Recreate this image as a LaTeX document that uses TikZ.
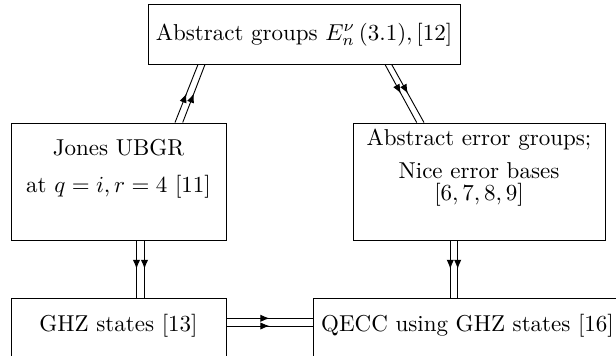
\documentclass[tikz,border=0pt]{standalone}
\usepackage{amsmath}
\usepackage{amssymb}
\usetikzlibrary{arrows.meta,calc,decorations.markings}

\tikzset{
    box/.style = {rectangle, draw, inner sep = 2pt},
    midarrow/.style = {postaction = {decorate}, decoration = {markings, mark = at position 0.5 with {\arrow{Latex[length = 4pt, width = 3.2pt]}}}},
}

\begin{document}
\begin{tikzpicture}[x = 0.435pt, y = -0.435pt]
        \useasboundingbox (0, 0) rectangle (616, 356);
        \clip (0, 0) rectangle (616, 356);
        \node (groups) at (304, 34.5) [box, minimum width = 135.7pt, minimum height = 25.7pt] {Abstract groups $E_n^{\nu}\,(3.1), [12]$};
        \node (jones) at (118.5, 181.5) [box, minimum width = 93.5pt, minimum height = 50.9pt, align = center, text depth = 13.3pt] {Jones UBGR\\[4pt] at $q = i, r = 4$ [11]};
        \node (nice) at (479, 181.5) [box, inner ysep = 0pt, minimum width = 109.6pt, minimum height = 50.9pt, align = center, text depth = 14.2pt] {Abstract error groups;\\[2pt] Nice error bases\\[-2pt] $[6, 7, 8, 9]$};
        \node (ghz) at (118.5, 329) [box, minimum width = 93.5pt, minimum height = 27pt, text depth = 5pt] {GHZ states [13]};
        \node (qecc) at (467.5, 329) [box, minimum width = 134.4pt, minimum height = 27pt, text depth = 5pt] {QECC using GHZ states [16]};
        \draw [midarrow] ($(jones.north) + (56.5, 0)$) -- ($(groups.south) + (-106, 0)$);
        \draw [midarrow] ($(jones.north) + (64.2, 0)$) -- ($(groups.south) + (-99, 0)$);
        \draw [midarrow] ($(groups.south) + (81, 0)$) -- ($(nice.north) + (-62.3, 0)$);
        \draw [midarrow] ($(groups.south) + (87.7, 0)$) -- ($(nice.north) + (-55, 0)$);
        \draw [midarrow] ($(jones.south) + (18, 0)$) -- ($(ghz.north) + (18, 0)$);
        \draw [midarrow] ($(jones.south) + (26, 0)$) -- ($(ghz.north) + (26, 0)$);
        \draw [midarrow] ($(nice.south) + (-28.7, 0)$) -- ($(qecc.north) + (-17.2, 0)$);
        \draw [midarrow] ($(nice.south) + (-21.3, 0)$) -- ($(qecc.north) + (-9.8, 0)$);
        \draw [midarrow] ($(ghz.east) + (0, -10.7)$) -- ($(qecc.west) + (0, -10.7)$);
        \draw [midarrow] ($(ghz.east) + (0, -3)$) -- ($(qecc.west) + (0, -3)$);
    \end{tikzpicture}
\end{document}
